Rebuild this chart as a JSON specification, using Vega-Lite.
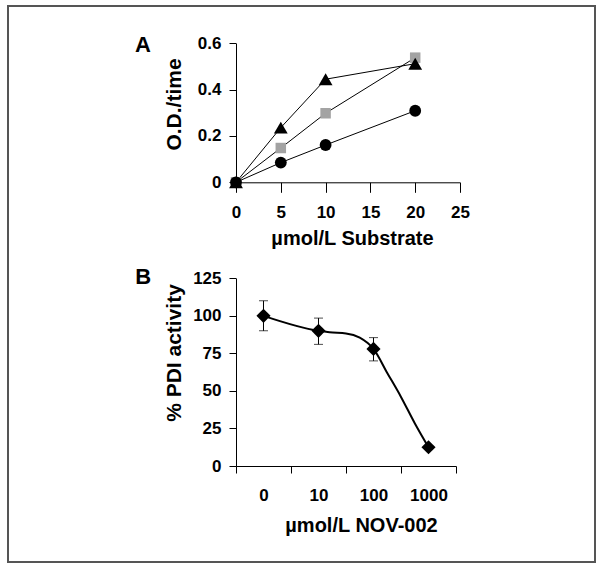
{
  "$schema": "https://vega.github.io/schema/vega-lite/v6.json",
  "width": 587,
  "height": 556,
  "autosize": "none",
  "padding": {"left": 8, "top": 6, "right": 6, "bottom": 6},
  "background": "white",
  "config": {
    "view": {"stroke": "#555555", "strokeWidth": 2},
    "font": "Liberation Sans",
    "axis": {
      "grid": false,
      "domainColor": "black",
      "domainWidth": 1,
      "tickColor": "black",
      "tickWidth": 1,
      "labelColor": "black",
      "titleColor": "black",
      "labelFont": "Liberation Sans",
      "labelFontWeight": "bold",
      "labelFontSize": 17,
      "titleFont": "Liberation Sans",
      "titleFontWeight": "bold",
      "titleFontSize": 20,
      "labelFlush": false,
      "labelOverlap": false
    }
  },
  "datasets": {
    "substrate": [
      {"series": "Series 2", "x": 0, "y": 0},
      {"series": "Series 2", "x": 5, "y": 0.148},
      {"series": "Series 2", "x": 10, "y": 0.298},
      {"series": "Series 2", "x": 20, "y": 0.538},
      {"series": "Series 1", "x": 0, "y": 0},
      {"series": "Series 1", "x": 5, "y": 0.236},
      {"series": "Series 1", "x": 10, "y": 0.445},
      {"series": "Series 1", "x": 20, "y": 0.512},
      {"series": "Series 3", "x": 0, "y": 0},
      {"series": "Series 3", "x": 5, "y": 0.085},
      {"series": "Series 3", "x": 10, "y": 0.161},
      {"series": "Series 3", "x": 20, "y": 0.309}
    ],
    "nov": [
      {"conc": 1, "pct": 100, "hi": 110, "lo": 90},
      {"conc": 10, "pct": 90, "hi": 98.5, "lo": 81},
      {"conc": 100, "pct": 78, "hi": 85.5, "lo": 70},
      {"conc": 1000, "pct": 12.5, "hi": null, "lo": null}
    ],
    "curve": [
      {"conc": 1, "pct": 100},
      {"conc": 10, "pct": 90},
      {"conc": 15.85, "pct": 89.0},
      {"conc": 31.62, "pct": 88.3},
      {"conc": 56.23, "pct": 85.5},
      {"conc": 100, "pct": 78},
      {"conc": 177.8, "pct": 62},
      {"conc": 316.2, "pct": 46},
      {"conc": 562.3, "pct": 28.5},
      {"conc": 1000, "pct": 12.5}
    ]
  },
  "layer": [
    {
      "encoding": {
        "x": {
          "field": "x",
          "type": "quantitative",
          "scale": {"domain": [-0.67, 25], "range": [222, 452], "nice": false, "zero": false},
          "axis": {
            "orient": "bottom",
            "offset": -379.7,
            "values": [0, 5, 10, 15, 20, 25],
            "tickSize": 10,
            "labelPadding": 12,
            "title": "µmol/L Substrate",
            "titleX": 344,
            "titleY": 61.7,
            "titleBaseline": "alphabetic",
            "titleFontSize": 20
          }
        },
        "y": {
          "field": "y",
          "type": "quantitative",
          "scale": {"domain": [0, 0.6], "range": [176.3, 37.3], "nice": false, "zero": false},
          "axis": {
            "orient": "left",
            "offset": -228,
            "values": [0, 0.2, 0.4, 0.6],
            "tickSize": 7,
            "labelPadding": 8,
            "labelExpr": "datum.value == 0 ? '0' : format(datum.value, '.1f')",
            "title": "O.D./time",
            "titleX": -55.3,
            "titleY": 98,
            "titleAngle": 270,
            "titleBaseline": "alphabetic",
            "titleFontSize": 21
          }
        }
      },
      "layer": [
        {
          "data": {"name": "substrate"},
          "mark": {"type": "line", "color": "black", "strokeWidth": 1},
          "encoding": {"detail": {"field": "series", "type": "nominal"}}
        },
        {
          "data": {"name": "substrate"},
          "transform": [{"filter": "datum.series == 'Series 2'"}],
          "mark": {"type": "point", "shape": "square", "filled": true, "opacity": 1, "color": "#a3a3a3", "size": 110, "strokeWidth": 0}
        },
        {
          "data": {"name": "substrate"},
          "transform": [{"filter": "datum.series == 'Series 1'"}],
          "mark": {"type": "point", "shape": "triangle-up", "filled": true, "opacity": 1, "color": "black", "size": 190, "strokeWidth": 0}
        },
        {
          "data": {"name": "substrate"},
          "transform": [{"filter": "datum.series == 'Series 3'"}],
          "mark": {"type": "point", "shape": "circle", "filled": true, "opacity": 1, "color": "black", "size": 140, "strokeWidth": 0}
        },
        {
          "data": {"values": [{"x": -10.4, "y": 0.593, "label": "A"}]},
          "mark": {"type": "text", "font": "Liberation Sans", "fontWeight": "bold", "fontSize": 22, "color": "black", "align": "center", "baseline": "middle"},
          "encoding": {"text": {"field": "label"}}
        }
      ]
    },
    {
      "encoding": {
        "x": {
          "field": "conc",
          "type": "quantitative",
          "scale": {"type": "log", "domain": [0.31623, 3162.3], "range": [228, 448], "nice": false},
          "axis": {
            "orient": "bottom",
            "offset": -96,
            "values": [0.31623, 1, 3.1623, 10, 31.623, 100, 316.23, 1000, 3162.3],
            "labelExpr": "datum.value == 1 ? '0' : (datum.value == 10 || datum.value == 100 || datum.value == 1000) ? format(datum.value, 'd') : ''",
            "tickOpacity": {"condition": {"test": "datum.value == 1 || datum.value == 10 || datum.value == 100 || datum.value == 1000", "value": 0}, "value": 1},
            "tickSize": 7,
            "labelPadding": 14,
            "title": "µmol/L NOV-002",
            "titleX": 353,
            "titleY": 65.7,
            "titleBaseline": "alphabetic",
            "titleFontSize": 20
          }
        },
        "y": {
          "field": "pct",
          "type": "quantitative",
          "scale": {"domain": [0, 125], "range": [460, 272.3], "nice": false, "zero": false},
          "axis": {
            "orient": "left",
            "offset": -228,
            "values": [0, 25, 50, 75, 100, 125],
            "tickSize": 7,
            "labelPadding": 8,
            "title": "% PDI activity",
            "titleX": -55.3,
            "titleY": 346.5,
            "titleAngle": 270,
            "titleBaseline": "alphabetic",
            "titleFontSize": 21
          }
        }
      },
      "layer": [
        {
          "data": {"name": "curve"},
          "mark": {"type": "line", "color": "black", "strokeWidth": 2, "interpolate": "monotone"}
        },
        {
          "data": {"name": "nov"},
          "mark": {"type": "rule", "color": "black", "strokeWidth": 1},
          "encoding": {
            "y": {"field": "pct", "type": "quantitative"},
            "y2": {"field": "hi"}
          }
        },
        {
          "data": {"name": "nov"},
          "mark": {"type": "rule", "color": "black", "strokeWidth": 1},
          "encoding": {
            "y": {"field": "pct", "type": "quantitative"},
            "y2": {"field": "lo"}
          }
        },
        {
          "data": {"name": "nov"},
          "mark": {"type": "tick", "orient": "horizontal", "color": "black", "size": 9, "thickness": 1},
          "encoding": {
            "y": {
              "field": "hi",
              "type": "quantitative",
              "scale": {"domain": [0, 125], "range": [460, 272.3], "nice": false, "zero": false},
              "axis": {
                "orient": "left",
                "offset": -228,
                "values": [0, 25, 50, 75, 100, 125],
                "tickSize": 7,
                "labelPadding": 8,
                "title": "% PDI activity",
                "titleX": -55.3,
                "titleY": 346.5,
                "titleAngle": 270,
                "titleBaseline": "alphabetic",
                "titleFontSize": 21
              }
            }
          }
        },
        {
          "data": {"name": "nov"},
          "mark": {"type": "tick", "orient": "horizontal", "color": "black", "size": 9, "thickness": 1},
          "encoding": {
            "y": {
              "field": "lo",
              "type": "quantitative",
              "scale": {"domain": [0, 125], "range": [460, 272.3], "nice": false, "zero": false},
              "axis": {
                "orient": "left",
                "offset": -228,
                "values": [0, 25, 50, 75, 100, 125],
                "tickSize": 7,
                "labelPadding": 8,
                "title": "% PDI activity",
                "titleX": -55.3,
                "titleY": 346.5,
                "titleAngle": 270,
                "titleBaseline": "alphabetic",
                "titleFontSize": 21
              }
            }
          }
        },
        {
          "data": {"name": "nov"},
          "mark": {"type": "point", "shape": "diamond", "filled": true, "opacity": 1, "color": "black", "size": 200, "strokeWidth": 0}
        },
        {
          "data": {"values": [{"conc": 0.00646, "pct": 126, "label": "B"}]},
          "mark": {"type": "text", "font": "Liberation Sans", "fontWeight": "bold", "fontSize": 22, "color": "black", "align": "center", "baseline": "middle"},
          "encoding": {"text": {"field": "label"}}
        }
      ]
    }
  ],
  "resolve": {
    "scale": {"x": "independent", "y": "independent"},
    "axis": {"x": "independent", "y": "independent"}
  }
}
